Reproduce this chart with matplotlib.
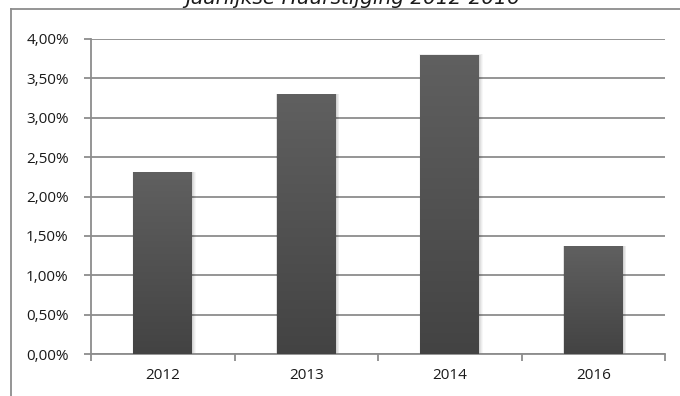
import numpy as np
import matplotlib
matplotlib.use("Agg")
import matplotlib.pyplot as plt
from matplotlib.lines import Line2D
from matplotlib.ticker import FixedLocator, FuncFormatter

# Jaarlijkse huurstijging per jaar (in procenten)
years = ["2012", "2013", "2014", "2016"]
increase_pct = [2.31, 3.30, 3.80, 1.37]
y_ticks_pct = [0.0, 0.5, 1.0, 1.5, 2.0, 2.5, 3.0, 3.5, 4.0]
title = "Jaarlijkse Huurstijging 2012-2016"

W, H, DPI = 680, 396, 100
fig = plt.figure(figsize=(W / DPI, H / DPI), dpi=DPI)
fig.patch.set_facecolor("white")

ax = fig.add_axes([91 / W, 1 - 354 / H, (665 - 91) / W, (354 - 39) / H])
grid_c = "#8c8c8c"

x = np.arange(len(years))
values = np.array(increase_pct) / 100.0
bar_w = 0.41

# vertical gradient used to fill each bar
grad = np.linspace(0, 1, 256).reshape(-1, 1)
cmap = matplotlib.colors.LinearSegmentedColormap.from_list(
    "bar", ["#434343", "#606060"])

bars = ax.bar(x, values, width=bar_w, color="none", edgecolor="none", zorder=3)
for b in bars:
    x0, y0 = b.get_x(), b.get_y()
    w, h = b.get_width(), b.get_height()
    # soft drop shadow
    for i, a in enumerate([0.06, 0.05, 0.04, 0.03]):
        d = 0.006 * (i + 1)
        ax.add_patch(plt.Rectangle((x0 - d * 0.3, y0), w + d * 1.4, h + d * 0.002,
                                   facecolor="black", alpha=a, edgecolor="none",
                                   zorder=2.5))
    im = ax.imshow(grad, extent=(x0, x0 + w, y0, y0 + h), origin="lower",
                   aspect="auto", cmap=cmap, zorder=3)
    im.set_clip_path(b)

ax.set_xlim(-0.5, len(years) - 0.5)
ax.set_ylim(0, 0.04)

ax.set_yticks(np.array(y_ticks_pct) / 100.0)
ax.yaxis.set_major_formatter(
    FuncFormatter(lambda v, p: f"{v * 100:.2f}%".replace(".", ",")))
ax.set_xticks(x)
ax.set_xticklabels(years)
ax.xaxis.set_minor_locator(FixedLocator(np.arange(-0.5, len(years), 1.0)))

ax.tick_params(axis="x", which="major", length=0, pad=10, labelsize=11,
               labelcolor="#1a1a1a")
ax.tick_params(axis="x", which="minor", length=5, width=1.3, color=grid_c,
               direction="out")
ax.tick_params(axis="y", length=5, width=1.3, color=grid_c, pad=11,
               labelsize=11, labelcolor="#1a1a1a")
for lab in ax.get_xticklabels() + ax.get_yticklabels():
    lab.set_fontfamily("Open Sans")

ax.grid(axis="y", color=grid_c, linewidth=1.3, zorder=1)
ax.set_axisbelow(True)
for s in ["top", "right"]:
    ax.spines[s].set_visible(False)
for s in ["left", "bottom"]:
    ax.spines[s].set_color(grid_c)
    ax.spines[s].set_linewidth(1.3)

# chart frame
fig.add_artist(Line2D([11 / W, 11 / W], [0, 1 - 9 / H], color=grid_c, lw=1.3))
fig.add_artist(Line2D([11 / W, 1], [1 - 9 / H, 1 - 9 / H], color=grid_c, lw=1.3))

fig.text(353 / W, 1 + 1 / H, title, ha="center", va="center", fontsize=14.5,
         style="italic", color="#1a1a1a", family="DejaVu Sans")

fig.savefig("out.png", dpi=DPI, facecolor="white")
